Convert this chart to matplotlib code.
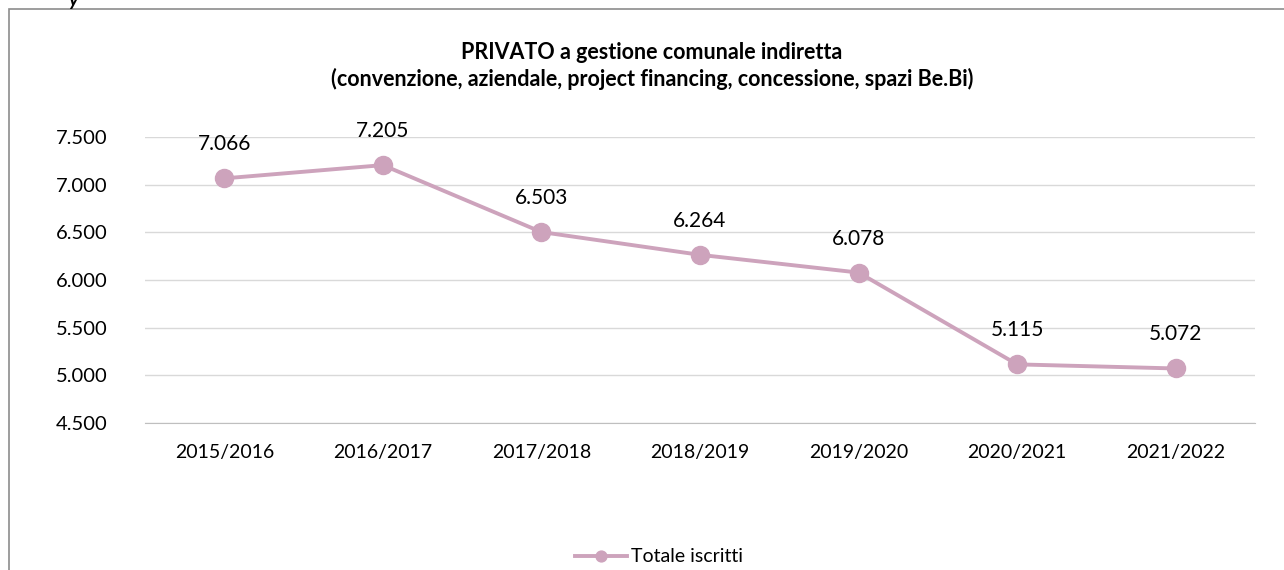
import matplotlib.pyplot as plt
from matplotlib.patches import Rectangle

anni = ["2015/2016", "2016/2017", "2017/2018", "2018/2019", "2019/2020", "2020/2021", "2021/2022"]
iscritti = [7066, 7205, 6503, 6264, 6078, 5115, 5072]
y_ticks = [4500, 5000, 5500, 6000, 6500, 7000, 7500]

plt.rcParams['font.family'] = ['Lato', 'DejaVu Sans']
colore = "#CDA3BC"


def fmt(v):
    return "{:,}".format(v).replace(",", ".")


W, H = 1284, 570
fig = plt.figure(figsize=(W / 100, H / 100), dpi=100)
fig.patches.append(Rectangle((9 / W, -0.1), 1.2, 1 - 9 / H + 0.1, transform=fig.transFigure,
                             fill=False, edgecolor="#8C8C8C", linewidth=1.2))
fig.text(68 / W, 1 + 8 / H, "y", fontsize=14, fontweight="bold", style="italic", va="top")

ax = fig.add_axes([145 / W, 1 - 423 / H, 1110 / W, 286 / H])
x = list(range(len(anni)))
ax.plot(x, iscritti, color=colore, linewidth=2.8, marker="o", markersize=13,
        label="Totale iscritti", zorder=3)
for xi, v in zip(x, iscritti):
    ax.annotate(fmt(v), (xi, v), xytext=(0, 24.5), textcoords="offset points",
                ha="center", va="center", fontsize=15)

ax.set_xlim(-0.5, len(anni) - 0.5)
ax.set_ylim(4500, 7500)
ax.set_yticks(y_ticks)
ax.set_yticklabels([fmt(t) for t in y_ticks], fontsize=14.5)
ax.set_xticks(x)
ax.set_xticklabels(anni, fontsize=14)
ax.tick_params(length=0)
ax.tick_params(axis="y", pad=27)
ax.tick_params(axis="x", pad=15)
ax.grid(axis="y", color="#D9D9D9", linewidth=1)
ax.set_axisbelow(True)
for s in ["top", "right", "left"]:
    ax.spines[s].set_visible(False)
ax.spines["bottom"].set_color("#BFBFBF")

fig.text(0.5 + 10 / W, 1 - 66 / H, "PRIVATO a gestione comunale indiretta\n"
         "(convenzione, aziendale, project financing, concessione, spazi Be.Bi)",
         ha="center", va="center", fontsize=15.5, fontweight="bold", linespacing=1.25)

fig.legend(loc="center", bbox_to_anchor=(0.5 + 17 / W, 1 - 557 / H), frameon=False,
           fontsize=14, handlelength=2.7, markerscale=0.6, handletextpad=0.2)

fig.savefig("out.png", dpi=100)
